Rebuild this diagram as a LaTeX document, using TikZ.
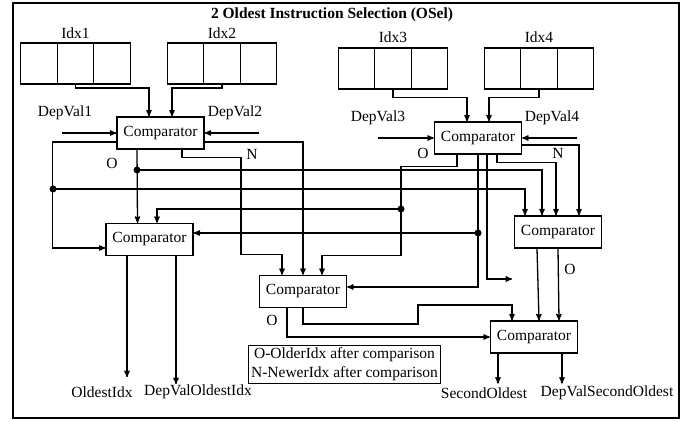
\documentclass[tikz,border=0pt]{standalone}
\usepackage{fontspec}
\setmainfont{Liberation Serif}
\usepackage{tikz}
\usetikzlibrary{shapes,arrows}
\tikzstyle{cell} = [draw, rectangle, minimum width=36.5pt, minimum height=41pt, line width=1.3pt]
\tikzstyle{comparator} = [draw, rectangle, minimum width=87pt, minimum height=32pt, line width=1.3pt]
\tikzstyle{line} = [draw, line width=1.3pt, -stealth']
\tikzstyle{dot} = [circle, fill, inner sep=0pt, minimum size=7pt]
\tikzstyle{legend} = [draw, rectangle, line width=1.3pt, align=center, inner sep=2.5pt, font=\fontsize{15.5}{19}\selectfont]
\begin{document}
\begin{tikzpicture}[x=1pt, y=1pt, node distance=36.5pt, font=\fontsize{15.5}{18}\selectfont]
    \useasboundingbox (0,0) rectangle (690,422);
    \draw [line width=1.3pt] (13,4) rectangle (679,419);
    \node [font=\fontsize{15.5}{18}\selectfont\bfseries] (title) at (332,407) {2 Oldest Instruction Selection (OSel)};

    % Place index registers
    \node [cell] (i1a) at (39,358.5) {};
    \node [cell, right of=i1a] (i1b) {};
    \node [cell, right of=i1b] (i1c) {};
    \node [above of=i1b, node distance=30pt] (idx1) {Idx1};
    \node [cell] (i2a) at (185.5,358.5) {};
    \node [cell, right of=i2a] (i2b) {};
    \node [cell, right of=i2b] (i2c) {};
    \node [above of=i2b, node distance=30pt] (idx2) {Idx2};
    \node [cell] (i3a) at (356.5,353.5) {};
    \node [cell, right of=i3a] (i3b) {};
    \node [cell, right of=i3b] (i3c) {};
    \node [above of=i3b, node distance=31pt] (idx3) {Idx3};
    \node [cell] (i4a) at (502.5,353.5) {};
    \node [cell, right of=i4a] (i4b) {};
    \node [cell, right of=i4b] (i4c) {};
    \node [above of=i4b, node distance=31pt] (idx4) {Idx4};

    % Place comparators
    \node [comparator] (c1) at (160.5,289) {Comparator};
    \node [comparator] (c2) at (478,284) {Comparator};
    \node [comparator] (c3) at (149.5,182.5) {Comparator};
    \node [comparator] (c4) at (558,190) {Comparator};
    \node [comparator] (c5) at (303,130.5) {Comparator};
    \node [comparator] (c6) at (534,85) {Comparator};

    % Dependency value inputs
    \node (dv1) at (65,309) {DepVal1};
    \node (dv2) at (235,309) {DepVal2};
    \node (dv3) at (378,304) {DepVal3};
    \node (dv4) at (552,304) {DepVal4};
    \coordinate (dv1in) at (62,289);
    \coordinate (dv2in) at (259,289);
    \coordinate (dv3in) at (378,284);
    \coordinate (dv4in) at (577,284);

    % Junction dots
    \node [dot] (d1) at (53,233) {};
    \node [dot] (d2) at (137,252) {};
    \node [dot] (d3) at (401,213) {};
    \node [dot] (d4) at (478,189) {};
    \coordinate (loose) at (512,143);

    % Port labels
    \node (o1) at (112,259) {O};
    \node (n1) at (252,268) {N};
    \node (o2) at (423,269) {O};
    \node (n2) at (558,269) {N};
    \node (o4) at (570,153) {O};
    \node (o5) at (272,102) {O};

    % Outputs and legend
    \node (oldest) at (102,30) {OldestIdx};
    \node (dvoldest) at (198,30) {DepValOldestIdx};
    \node (second) at (484,29) {SecondOldest};
    \node (dvsecond) at (607,29) {DepValSecondOldest};
    \node [legend] (key) at (344.5,57.5) {O-OlderIdx after comparison\\N-NewerIdx after comparison};

    % Draw edges
    \path [line] (i1b.south) -- ++(0,-3.5) -| ([xshift=-11.5pt]c1.north);
    \path [line] (i2b.south) -- ++(0,-3.5) -| ([xshift=11.5pt]c1.north);
    \path [line] (i3b.south) -- ++(0,-8) -| ([xshift=-11pt]c2.north);
    \path [line] (i4b.south) -- ++(0,-8) -| ([xshift=11pt]c2.north);
    \path [line] (dv1in) -- (dv1in -| c1.west);
    \path [line] (dv2in) -- (dv2in -| c1.east);
    \path [line] (dv3in) -- (dv3in -| c2.west);
    \path [line] (dv4in) -- (dv4in -| c2.east);
    % first comparator
    \path [line] ([yshift=-9pt]c1.west) -- ++(-64,0) |- ([yshift=-8.5pt]c3.west);
    \path [line] (d1.center) -| ([xshift=-33pt]c4.north);
    \path [line] ([xshift=-23.5pt]c1.south) -- ([xshift=-12pt]c3.north);
    \path [line] (d2.center) -| ([xshift=-16pt]c4.north);
    \path [line] ([xshift=21.5pt]c1.south) -- ++(0,-8) -- ++(59,0) -- ++(0,-97) -| ([xshift=-21pt]c5.north);
    \path [line] ([yshift=-9pt]c1.east) -| (c5.north);
    % second comparator
    \path [line] ([xshift=-21pt]c2.south) -- ++(0,-12) -- ++(-56,0) -- ++(0,-89) -| ([xshift=19pt]c5.north);
    \path [line] (d3.center) -| ([xshift=7.5pt]c3.north);
    \path [line] (c2.south) |- ([yshift=4.5pt]c5.east);
    \path [line] (d4.center) -- (d4 -| c3.east);
    \path [line] ([xshift=9pt]c2.south) |- (loose);
    \path [line] ([xshift=19pt]c2.south) -- ++(0,-8) -| ([xshift=-2pt]c4.north);
    \path [line] ([yshift=-7pt]c2.east) -| ([xshift=21pt]c4.north);
    % last stage
    \path [line] ([xshift=-21pt]c4.south) -- ([xshift=5pt]c6.north);
    \path [line] (c4.south) -- ([xshift=25pt]c6.north);
    \path [line] ([xshift=-16pt]c5.south) |- (c6.west);
    \path [line] (c5.south) -- ++(0,-16) -- ++(115,0) -- ++(0,19) -| ([xshift=-22pt]c6.north);
    \path [line] ([xshift=-22.5pt]c3.south) -- ++(0,-121);
    \path [line] ([xshift=26.5pt]c3.south) -- ++(0,-128);
    \path [line] ([xshift=-36pt]c6.south) -- ++(0,-30);
    \path [line] ([xshift=28pt]c6.south) -- ++(0,-30);
\end{tikzpicture}
\end{document}
